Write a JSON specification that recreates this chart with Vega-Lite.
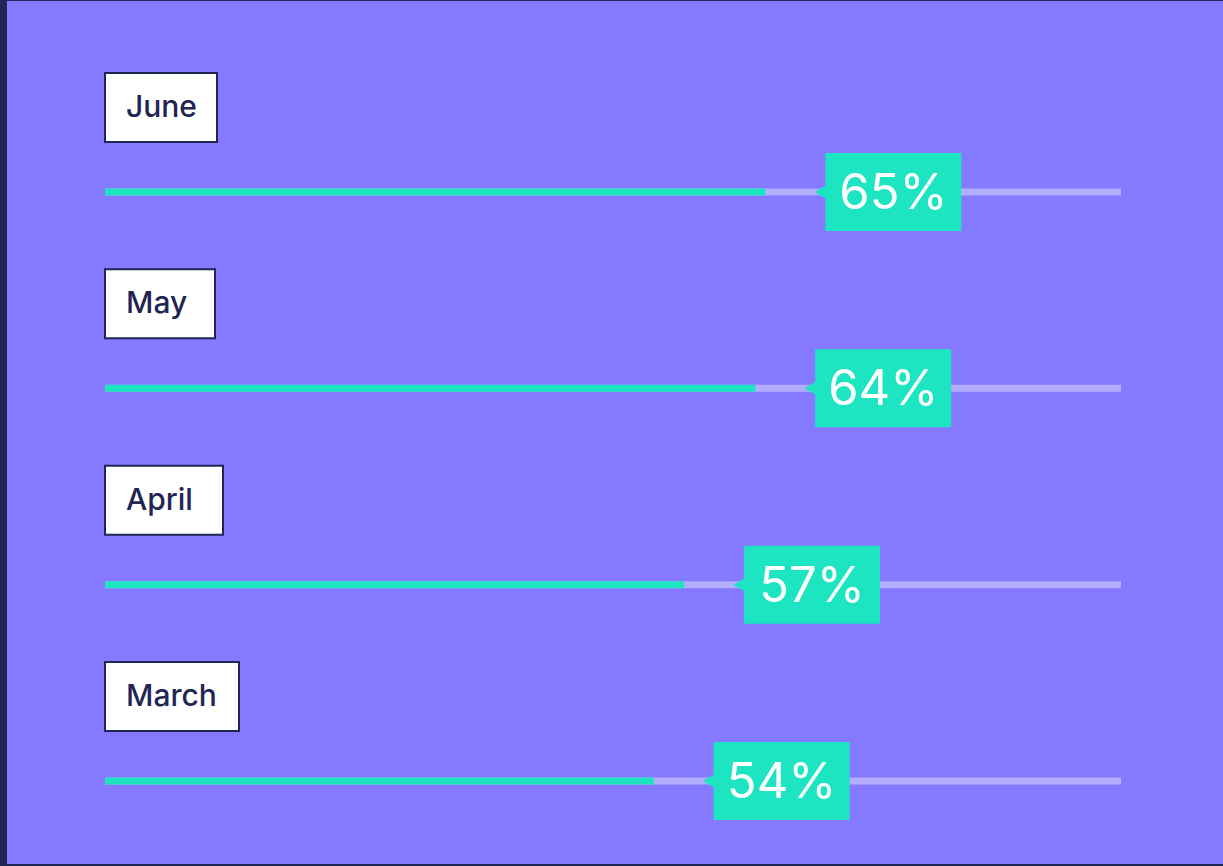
{
  "$schema": "https://vega.github.io/schema/vega-lite/v6.json",
  "width": 1223,
  "height": 866,
  "autosize": {"type": "fit", "contains": "padding"},
  "padding": {"left": 7, "top": 1, "right": 0, "bottom": 2},
  "background": "#1f2653",
  "config": {"view": {"fill": "#8479ff", "stroke": null}, "font": "Inter"},
  "data": {"values": [
    {"month": "June", "value": 65, "label": "65%"},
    {"month": "May", "value": 64, "label": "64%"},
    {"month": "April", "value": 57, "label": "57%"},
    {"month": "March", "value": 54, "label": "54%"}
  ]},
  "transform": [
    {"calculate": "max(110, 40 + 18 * length(datum.month) + 8 * (length(split(datum.month, 'M')) - 1) - 4 * (length(split(datum.month, 'i')) + length(split(datum.month, 'l')) + length(split(datum.month, 'r')) - 3)) / 10.16", "as": "boxEnd"},
    {"calculate": "0", "as": "start"},
    {"calculate": "100", "as": "full"}
  ],
  "encoding": {
    "y": {"field": "month", "type": "nominal", "sort": ["June", "May", "April", "March"],
          "scale": {"type": "point", "range": [191, 780], "padding": 0}, "axis": null}
  },
  "layer": [
    {
      "mark": {"type": "rule", "color": "#b5adff", "strokeWidth": 7},
      "encoding": {
        "x": {"field": "start", "type": "quantitative", "scale": {"domain": [-9.646, 110.04], "nice": false, "zero": false}, "axis": null},
        "x2": {"field": "full"}
      }
    },
    {
      "mark": {"type": "rule", "color": "#1de5c1", "strokeWidth": 7},
      "encoding": {
        "x": {"field": "start", "type": "quantitative"},
        "x2": {"field": "value"}
      }
    },
    {
      "mark": {"type": "rect", "fill": "#ffffff", "stroke": "#1f2653", "strokeWidth": 2, "height": 69, "yOffset": -84.5},
      "encoding": {
        "x": {"field": "start", "type": "quantitative"},
        "x2": {"field": "boxEnd"}
      }
    },
    {
      "mark": {"type": "text", "align": "left", "baseline": "middle", "dx": 21, "dy": -84, "fontSize": 30, "fontWeight": 500, "color": "#1f2653"},
      "encoding": {
        "x": {"field": "start", "type": "quantitative"},
        "text": {"field": "month"}
      }
    },
    {
      "mark": {"type": "point", "shape": "triangle-left", "filled": true, "opacity": 1, "strokeWidth": 0, "color": "#1de5c1", "size": 420, "xOffset": 58},
      "encoding": {
        "x": {"field": "value", "type": "quantitative"}
      }
    },
    {
      "mark": {"type": "rect", "fill": "#1de5c1", "height": 78, "xOffset": 60, "x2Offset": 196},
      "encoding": {
        "x": {"field": "value", "type": "quantitative"},
        "x2": {"field": "value"}
      }
    },
    {
      "mark": {"type": "text", "align": "center", "baseline": "middle", "dx": 128, "dy": 2, "fontSize": 49, "color": "#ffffff"},
      "encoding": {
        "x": {"field": "value", "type": "quantitative"},
        "text": {"field": "label"}
      }
    }
  ]
}
